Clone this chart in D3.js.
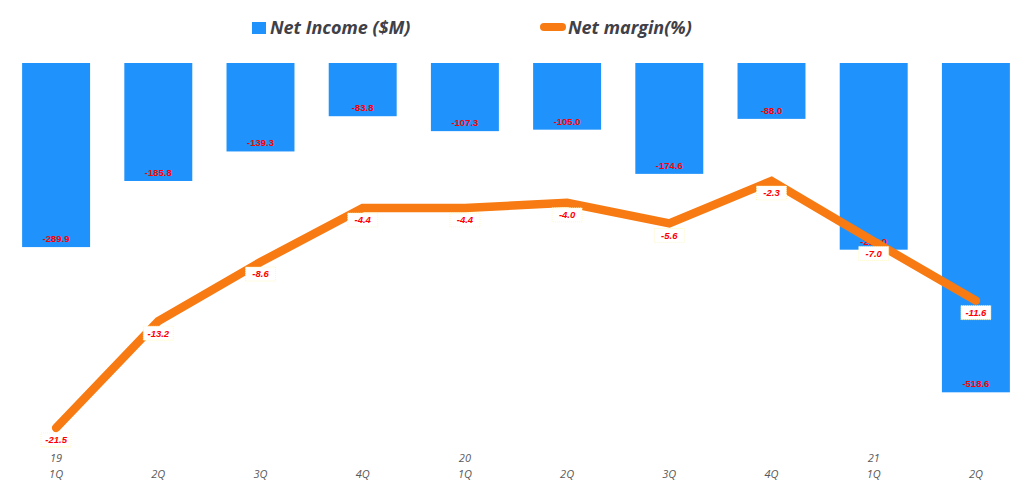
<!DOCTYPE html>
<html><head><meta charset="utf-8">
<script src="https://cdn.jsdelivr.net/npm/d3@7"></script>
<style>body{margin:0;background:#fff}svg{display:block}</style>
</head><body>
<script>
const quarters = ["1Q","2Q","3Q","4Q","1Q","2Q","3Q","4Q","1Q","2Q"];
const years = ["19","","","","20","","","","21",""];
const netIncome = [-289.9,-185.8,-139.3,-83.8,-107.3,-105.0,-174.6,-88.0,-294.0,-518.6];
const netIncomeLabels = ["-289.9","-185.8","-139.3","-83.8","-107.3","-105.0","-174.6","-88.0","-294.0","-518.6"];
const netMargin = [-21.5,-13.2,-8.6,-4.4,-4.4,-4.0,-5.6,-2.3,-7.0,-11.6];

const W=1024,H=493;
const svg=d3.select("body").append("svg").attr("width",W).attr("height",H);
const idx=d3.range(quarters.length);
const x=d3.scaleBand().domain(idx).range([5,1027]).paddingInner(0.335).paddingOuter(0.1675);
const y=d3.scaleLinear().domain([-600,0]).range([444,63]);
const y2=d3.scaleLinear().domain([-22.75,6.875]).range([444,63]);
const cx=i=>x(i)+x.bandwidth()/2;

// bars
svg.append("g").selectAll("rect").data(netIncome).join("rect")
  .attr("x",(d,i)=>x(i)).attr("width",x.bandwidth())
  .attr("y",y(0)).attr("height",d=>y(d)-y(0))
  .attr("fill","#1f93fb");
svg.append("g").selectAll("text").data(netIncome).join("text")
  .attr("x",(d,i)=>cx(i)).attr("y",d=>y(d)-5)
  .attr("text-anchor","middle")
  .attr("font-family","Liberation Sans, Arial, sans-serif").attr("font-weight","bold")
  .attr("font-size",9.5).attr("fill","#ff0000")
  .text((d,i)=>netIncomeLabels[i]);

// line
const line=d3.line().x((d,i)=>cx(i)).y(d=>y2(d));
svg.append("path").datum(netMargin).attr("d",line)
  .attr("fill","none").attr("stroke","#f77a12").attr("stroke-width",8.5)
  .attr("stroke-linecap","round").attr("stroke-linejoin","miter");

const lg=svg.append("g").selectAll("g").data(netMargin).join("g")
  .attr("transform",(d,i)=>`translate(${cx(i)},${y2(d)+12})`);
lg.append("rect").attr("x",-15).attr("y",-7).attr("width",30).attr("height",14)
  .attr("fill","#fff").attr("stroke","#fff7b0").attr("stroke-dasharray","1,1").attr("stroke-width",0.8);
lg.append("text").attr("text-anchor","middle").attr("dy","0.35em")
  .attr("font-family","Liberation Sans, Arial, sans-serif").attr("font-weight","bold")
  .attr("font-style","italic").attr("font-size",9.5).attr("fill","#ff0000")
  .text(d=>d.toFixed(1));

// x axis labels
const ax=svg.append("g");
ax.selectAll("text.q").data(quarters).join("text").attr("class","q")
  .attr("x",(d,i)=>cx(i)).attr("y",478).attr("text-anchor","middle")
  .attr("font-family","Open Sans, sans-serif").attr("font-style","italic")
  .attr("font-size",11).attr("fill","#595959").text(d=>d);
ax.selectAll("text.y").data(years).join("text").attr("class","y")
  .attr("x",(d,i)=>cx(i)).attr("y",462).attr("text-anchor","middle")
  .attr("font-family","Open Sans, sans-serif").attr("font-style","italic")
  .attr("font-size",11).attr("fill","#595959").text(d=>d);

// legend
const leg=svg.append("g");
leg.append("rect").attr("x",252).attr("y",22).attr("width",14).attr("height",12).attr("fill","#1f93fb");
leg.append("text").attr("x",270).attr("y",34).text("Net Income ($M)")
  .attr("font-family","Open Sans, sans-serif").attr("font-style","italic").attr("font-weight","bold")
  .attr("font-size",18).attr("fill","#404048");
leg.append("line").attr("x1",544).attr("x2",562).attr("y1",27).attr("y2",27)
  .attr("stroke","#f77a12").attr("stroke-width",8).attr("stroke-linecap","round");
leg.append("text").attr("x",568).attr("y",34).text("Net margin(%)")
  .attr("font-family","Open Sans, sans-serif").attr("font-style","italic").attr("font-weight","bold")
  .attr("font-size",18).attr("fill","#404048");
</script>
</body></html>
